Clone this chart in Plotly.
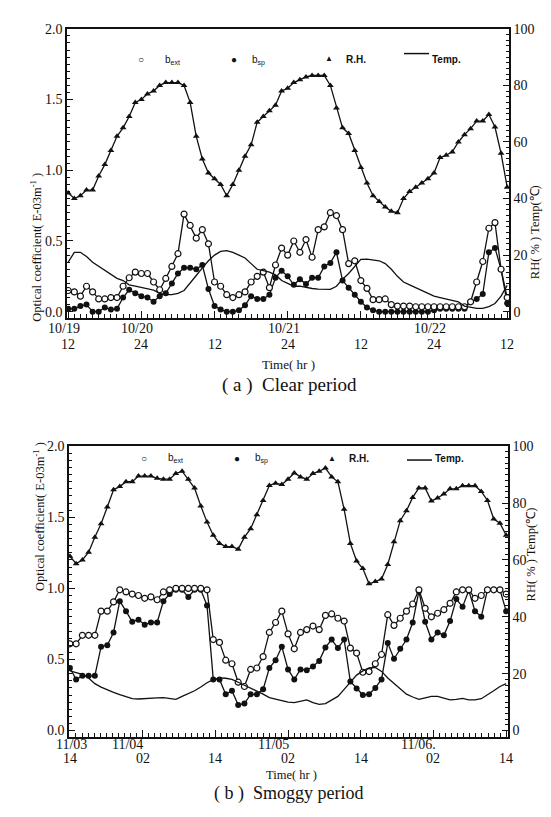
import plotly.graph_objects as go

# ---------------- data: (a) Clear period, hourly from 10/19 12h ----------------
rh_a = [42, 40, 41, 43, 43, 48, 52, 57, 62, 65,
        69, 74, 75, 77, 78, 80, 81, 81, 81, 80,
        74, 62, 54, 49, 47, 45, 41, 45, 50, 55,
        59, 67, 69, 71, 73, 78, 79, 81, 82, 83,
        83.5, 83.5, 83.5, 80, 72, 65, 63, 57, 51, 45.5,
        41, 39, 37, 35.5, 35, 40, 42.5, 44, 45.5, 47,
        49, 54.5, 55.3, 56.5, 60, 62.6, 64.7, 67.4, 67.4, 69.7,
        65.3, 56, 44]
temp_a = [17.5, 21, 21, 19.5, 17.5, 16, 14.5, 13, 11.8, 11,
          9.5, 9, 8.5, 8, 7.6, 6.5, 6, 6, 6.5, 7.5,
          10, 12.8, 15.5, 18, 20, 21.3, 21.6, 21, 20, 19,
          17, 15, 14.5, 14, 13, 11, 10, 9, 9, 8.5,
          8.2, 8, 8, 7.9, 9, 11.5, 13.5, 16, 18.5, 18.6,
          18.3, 18, 17, 15, 12.5, 10.5, 9.5, 8.5, 7.5, 6.5,
          5.5, 5, 4.5, 4, 3.5, 2, 1.5, 1.2, 1.2, 1.8,
          2.9, 5.5, 9.3]
bext_a = [0.15, 0.14, 0.11, 0.18, 0.14, 0.09, 0.09, 0.10, 0.10, 0.18,
          0.24, 0.28, 0.27, 0.27, 0.21, 0.155, 0.235, 0.32, 0.41, 0.69,
          0.61, 0.52, 0.58, 0.48, 0.21, 0.18, 0.12, 0.10, 0.12, 0.14,
          0.21, 0.25, 0.28, 0.17, 0.33, 0.45, 0.40, 0.50, 0.42, 0.51,
          0.385, 0.58, 0.60, 0.70, 0.68, 0.58, 0.34, 0.36, 0.22, 0.165,
          0.085, 0.085, 0.09, 0.05, 0.04, 0.04, 0.04, 0.035, 0.035, 0.035,
          0.035, 0.035, 0.035, 0.035, 0.035, 0.035, 0.07, 0.21, 0.355, 0.59,
          0.63, 0.30, 0.10]
bsp_a = [0.02, 0.02, 0.04, 0.05, 0.0, 0.0, 0.03, 0.015, 0.02, 0.10,
         0.155, 0.13, 0.11, 0.10, 0.07, 0.11, 0.13, 0.20, 0.27, 0.31,
         0.31, 0.30, 0.33, 0.16, 0.04, 0.015, 0.0, 0.0, 0.01, 0.045,
         0.11, 0.09, 0.09, 0.12, 0.24, 0.29, 0.25, 0.19, 0.23, 0.195,
         0.24, 0.24, 0.32, 0.345, 0.42, 0.22, 0.17, 0.12, 0.07, 0.03,
         0.01, 0.0, 0.0, 0.0, 0.0, 0.0, 0.0, 0.0, 0.0, 0.0,
         0.01, 0.02, 0.02, 0.02, 0.02, 0.02, 0.07, 0.09, 0.125, 0.42,
         0.45, 0.30, 0.06]
hours_a = list(range(len(rh_a)))

# ---------------- data: (b) Smoggy period, from 11/03 14h ----------------
rh_b = [61.3, 58.7, 60, 62.7, 68, 72.7, 78.6, 84.7, 85.8, 87.5,
        87.5, 89.5, 89.5, 89.5, 88.7, 88.4, 88.4, 90.4, 91.2, 88.4,
        85.3, 79, 73.3, 68.7, 65.8, 64.7, 64.7, 63.8, 68, 71,
        75.9, 80.9, 86.2, 87, 86.5, 88.4, 90.6, 89.2, 88.4, 90.4,
        91.2, 92.3, 89.2, 87.5, 77.8, 65.8, 59.6, 57, 51.6, 52.4,
        53.3, 58.4, 66.4, 73.8, 77.3, 82, 85.3, 85.3, 80.7, 81.8,
        83.2, 85, 85, 86.1, 86.1, 86.1, 84.1, 80.9, 74.4, 72.9,
        68.7]
temp_b = [21, 20.5, 19.8, 18.5, 16.5, 15.3, 14.3, 13.4, 12.6, 12,
          11.2, 11.1, 11.3, 11.4, 11.5, 11.6, 11.3, 11, 12, 13,
          14, 15.3, 16.8, 17.9, 18.5, 18.4, 18, 17, 16, 14.8,
          13.8, 12.8, 11.6, 11, 10.5, 10, 9.8, 10.3, 10.8, 9.8,
          9.2, 9.5, 10.8, 12, 14.5, 17, 19.5, 21, 22, 22.2,
          20.8, 18.5, 16.5, 14.5, 12.8, 11.8, 11, 11.5, 12, 12,
          11.3, 10.8, 11, 11.3, 10.8, 10.8, 11.2, 12.5, 14, 15.5,
          16.5]
bext_b = [0.61, 0.61, 0.67, 0.67, 0.67, 0.84, 0.84, 0.905, 0.99, 0.975,
          0.96, 0.95, 0.93, 0.94, 0.92, 0.975, 0.99, 1.0, 1.0, 1.0,
          1.0, 1.0, 0.99, 0.64, 0.62, 0.495, 0.47, 0.34, 0.31, 0.43,
          0.44, 0.52, 0.69, 0.76, 0.84, 0.68, 0.575, 0.69, 0.71, 0.735,
          0.71, 0.81, 0.82, 0.79, 0.77, 0.58, 0.545, 0.41, 0.415, 0.47,
          0.535, 0.815, 0.74, 0.79, 0.84, 0.89, 0.99, 0.86, 0.80, 0.825,
          0.85, 0.895, 0.975, 0.99, 0.99, 0.93, 0.95, 0.99, 0.99, 0.99,
          0.96]
bsp_b = [0.44, 0.36, 0.385, 0.385, 0.385, 0.59, 0.60, 0.69, 0.91, 0.84,
         0.765, 0.78, 0.745, 0.76, 0.76, 0.91, 0.96, 0.99, 0.99, 0.94,
         0.99, 0.99, 0.88, 0.36, 0.36, 0.255, 0.28, 0.18, 0.19, 0.255,
         0.255, 0.29, 0.44, 0.495, 0.59, 0.43, 0.36, 0.43, 0.425, 0.45,
         0.49, 0.585, 0.64, 0.58, 0.64, 0.345, 0.295, 0.25, 0.255, 0.30,
         0.36, 0.615, 0.505, 0.575, 0.64, 0.76, 0.98, 0.765, 0.64, 0.69,
         0.67, 0.77, 0.925, 0.87, 0.985, 0.84, 0.80, 0.99, 0.99, 0.99,
         0.84]
step_b = 72 / (len(rh_b) - 1)
hours_b = [i * step_b for i in range(len(rh_b))]

# ---------------- tick labels ----------------
tick_hours = [0, 12, 24, 36, 48, 60, 72]
hour_labels_a = ["12", "24", "12", "24", "12", "24", "12"]
date_labels_a = ["10/19", "10/20", "", "10/21", "", "10/22", ""]
hour_labels_b = ["14", "02", "14", "02", "14", "02", "14"]
date_labels_b = ["11/03", "11/04", "", "11/05", "", "11/06.", ""]
left_ticks = [0.0, 0.5, 1.0, 1.5, 2.0]
left_tick_text = ["0.0", "0.5", "1.0", "1.5", "2.0"]
right_ticks = [0, 20, 40, 60, 80, 100]

SERIF = "Liberation Serif, Times New Roman, serif"
BLACK = "#111111"

fig = go.Figure()


def add_panel(hours, bext, bsp, rh, temp, xa, ya, ya2):
    fig.add_trace(go.Scatter(x=hours, y=temp, mode="lines", xaxis=xa, yaxis=ya2,
                             line=dict(color=BLACK, width=1.3), showlegend=False))
    fig.add_trace(go.Scatter(x=hours, y=rh, mode="lines+markers", xaxis=xa, yaxis=ya2,
                             line=dict(color=BLACK, width=1.3),
                             marker=dict(symbol="triangle-up", size=6, color=BLACK),
                             showlegend=False))
    fig.add_trace(go.Scatter(x=hours, y=bsp, mode="lines+markers", xaxis=xa, yaxis=ya,
                             line=dict(color=BLACK, width=1.3),
                             marker=dict(symbol="circle", size=6, color=BLACK),
                             showlegend=False))
    fig.add_trace(go.Scatter(x=hours, y=bext, mode="lines+markers", xaxis=xa, yaxis=ya,
                             line=dict(color=BLACK, width=1.3),
                             marker=dict(symbol="circle", size=6, color="white",
                                         line=dict(color=BLACK, width=1.2)),
                             showlegend=False))


add_panel(hours_a, bext_a, bsp_a, rh_a, temp_a, "x", "y", "y2")
add_panel(hours_b, bext_b, bsp_b, rh_b, temp_b, "x2", "y3", "y4")

W, H = 551, 817


def px(x):
    return x / W


def py(y):
    return 1 - y / H


axis_common = dict(showline=True, linecolor=BLACK, linewidth=1.6, showgrid=False,
                   zeroline=False, ticks="inside", tickcolor=BLACK,
                   tickfont=dict(family=SERIF, size=14, color=BLACK))

xcommon = dict(axis_common, tickmode="array", tickvals=tick_hours, ticklen=7, tickwidth=1.3,
               mirror=True, showticklabels=False,
               minor=dict(dtick=1, tick0=0, ticklen=4, ticks="inside", tickcolor=BLACK, tickwidth=1))
yleft = dict(axis_common, tickmode="array", tickvals=left_ticks, ticktext=left_tick_text,
             ticklen=6, tickwidth=1.3,
             minor=dict(dtick=0.05, tick0=0, ticklen=3, ticks="inside", tickcolor=BLACK, tickwidth=1))
yright = dict(axis_common, tickmode="array", tickvals=right_ticks, ticklen=6, tickwidth=1.3,
              side="right",
              minor=dict(dtick=2, tick0=0, ticklen=3, ticks="inside", tickcolor=BLACK, tickwidth=1))

fig.update_layout(
    width=W, height=H, margin=dict(l=0, r=0, t=0, b=0),
    plot_bgcolor="white", paper_bgcolor="white", showlegend=False,
    xaxis=dict(xcommon, domain=[px(59), px(501)], range=[-0.2, 72.3], anchor="y"),
    yaxis=dict(yleft, domain=[py(306), py(14)], range=[-0.042, 2.0], anchor="x"),
    yaxis2=dict(yright, overlaying="y", range=[-2.1, 100], anchor="x"),
    xaxis2=dict(xcommon, domain=[px(61), px(500)], range=[-0.15, 72.3], anchor="y3"),
    yaxis3=dict(yleft, domain=[py(730), py(436)], range=[-0.045, 2.0], anchor="x2"),
    yaxis4=dict(yright, overlaying="y3", range=[-2.25, 100], anchor="x2"),
)

ann = []
TICKFONT = dict(family=SERIF, size=14, color=BLACK)
# x tick labels: date row above hour row
for t, d, h in zip(tick_hours, date_labels_a, hour_labels_a):
    if d:
        ann.append(dict(x=t, y=py(317), xref="x", yref="paper", text=d, showarrow=False,
                        xshift=-4, font=TICKFONT))
    ann.append(dict(x=t, y=py(333), xref="x", yref="paper", text=h, showarrow=False,
                    font=TICKFONT))
for i, (t, d, h) in enumerate(zip(tick_hours, date_labels_b, hour_labels_b)):
    if d:
        ann.append(dict(x=t, y=py(747), xref="x2", yref="paper", text=d, showarrow=False,
                        xshift=2 if i == 0 else -15, font=TICKFONT))
    ann.append(dict(x=t, y=py(761), xref="x2", yref="paper", text=h, showarrow=False,
                    font=TICKFONT))

# axis titles and captions
ann += [
    dict(x=px(18), y=py(158), xref="paper", yref="paper", text="Optical coefficient( E-03m<sup>-1</sup> )",
         textangle=-90, showarrow=False, font=dict(family=SERIF, size=12.5, color=BLACK)),
    dict(x=px(536), y=py(170), xref="paper", yref="paper", text="RH( % ) Temp(℃)",
         textangle=-90, showarrow=False, font=dict(family=SERIF, size=12.5, color=BLACK)),
    dict(x=px(280), y=py(353), xref="paper", yref="paper", text="Time( hr )",
         showarrow=False, font=dict(family=SERIF, size=13, color=BLACK)),
    dict(x=px(281), y=py(374), xref="paper", yref="paper", text="( a )  Clear period",
         showarrow=False, font=dict(family=SERIF, size=19, color=BLACK)),
    dict(x=px(21), y=py(585), xref="paper", yref="paper", text="Optical coefficient( E-03m<sup>-1</sup> )",
         textangle=-90, showarrow=False, font=dict(family=SERIF, size=12.5, color=BLACK)),
    dict(x=px(532), y=py(595), xref="paper", yref="paper", text="RH( % ) Temp(℃)",
         textangle=-90, showarrow=False, font=dict(family=SERIF, size=12.5, color=BLACK)),
    dict(x=px(283), y=py(778), xref="paper", yref="paper", text="Time( hr )",
         showarrow=False, font=dict(family=SERIF, size=12.5, color=BLACK)),
    dict(x=px(280), y=py(800), xref="paper", yref="paper", text="( b )  Smoggy period",
         showarrow=False, font=dict(family=SERIF, size=18, color=BLACK)),
]

# legends drawn inside each panel
SANS = "Liberation Sans, Arial, sans-serif"
legend_rows = [(37, 0), (448, 3)]
legend_items = [("○", 128), ("b<sub>ext</sub>", 155), ("●", 226), ("b<sub>sp</sub>", 250),
                ("▲", 321), ("<b>R.H.</b>", 348), ("<b>Temp.</b>", 455)]
for yrow, dx in legend_rows:
    for txt, xc in legend_items:
        ann.append(dict(x=px(xc + dx), y=py(yrow), xref="paper", yref="paper", text=txt,
                        showarrow=False, font=dict(family=SANS, size=10 if txt[0] != "▲" else 8,
                                                   color=BLACK)))
    fig.add_shape(type="line", xref="paper", yref="paper",
                  x0=px(396 + dx), x1=px(421 + dx), y0=py(yrow + 2), y1=py(yrow + 2),
                  line=dict(color=BLACK, width=1.5))

fig.update_layout(annotations=ann)
fig.write_html("out.html")
